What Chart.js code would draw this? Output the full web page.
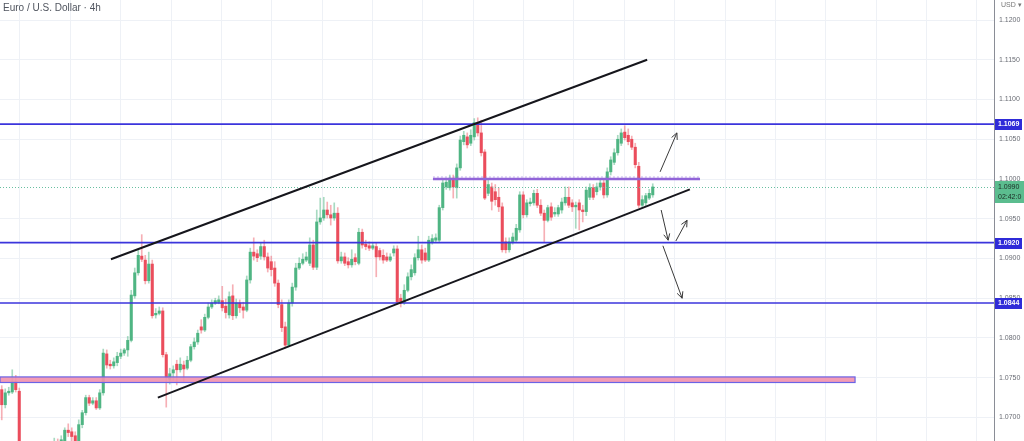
<!DOCTYPE html>
<html>
<head>
<meta charset="utf-8">
<script src="https://cdn.jsdelivr.net/npm/chart.js@4.4.0/dist/chart.umd.min.js"></script>
<style>
  html, body { margin: 0; padding: 0; background: #fff; }
  #wrap { position: relative; width: 1024px; height: 441px; }
</style>
</head>
<body>
<div id="wrap"><canvas id="priceChart"></canvas></div>
<script>
// EUR/USD 4h candles (oldest first)
const opens = [
  1.0735, 1.0716, 1.0731, 1.0732, 1.0745, 1.0733, 1.0653, 1.0644, 1.0657, 1.0634,
  1.0647, 1.0639, 1.0653, 1.0662, 1.0649, 1.0664, 1.0669, 1.0663, 1.0669, 1.0684,
  1.0682, 1.0677, 1.0668, 1.0691, 1.0706, 1.0725, 1.0718, 1.0721, 1.0712, 1.0731,
  1.0780, 1.0767, 1.0765, 1.0769, 1.0777, 1.0781, 1.0785, 1.0797, 1.0853, 1.0882,
  1.0903, 1.0898, 1.0872, 1.0893, 1.0829, 1.0831, 1.0834, 1.0779, 1.0748, 1.0756,
  1.0767, 1.0760, 1.0766, 1.0762, 1.0772, 1.0789, 1.0795, 1.0814, 1.0810, 1.0826,
  1.0839, 1.0844, 1.0845, 1.0847, 1.0840, 1.0829, 1.0853, 1.0828, 1.0844, 1.0839,
  1.0835, 1.0873, 1.0908, 1.0906, 1.0903, 1.0915, 1.0902, 1.0896, 1.0888, 1.0869,
  1.0842, 1.0814, 1.0791, 1.0844, 1.0864, 1.0888, 1.0894, 1.0898, 1.0894, 1.0917,
  1.0889, 1.0946, 1.0951, 1.0961, 1.0955, 1.0951, 1.0957, 1.0897, 1.0902, 1.0896,
  1.0892, 1.0901, 1.0894, 1.0933, 1.0918, 1.0916, 1.0913, 1.0915, 1.0910, 1.0904,
  1.0902, 1.0898, 1.0907, 1.0912, 1.0850, 1.0845, 1.0860, 1.0877, 1.0882, 1.0901,
  1.0911, 1.0907, 1.0898, 1.0921, 1.0923, 1.0923, 1.0964, 1.0990, 1.0989, 1.1001,
  1.0989, 1.1014, 1.1047, 1.1053, 1.1045, 1.1053, 1.1071, 1.1058, 1.1034, 1.0982,
  1.0990, 1.0984, 1.0977, 1.0965, 1.0921, 1.0911, 1.0921, 1.0923, 1.0936, 1.0980,
  1.0955, 1.0969, 1.0970, 1.0982, 1.0967, 1.0957, 1.0948, 1.0965, 1.0956, 1.0956,
  1.0961, 1.0970, 1.0977, 1.0970, 1.0965, 1.0970, 1.0961, 1.0959, 1.0977, 1.0989,
  1.0984, 1.0990, 1.0995, 1.0980, 1.1009, 1.1021, 1.1033, 1.1045, 1.1059, 1.1055,
  1.1050, 1.1040, 1.1016, 1.0967, 1.0970, 1.0976, 1.0980
];
const highs = [
  1.0740, 1.0736, 1.0738, 1.0760, 1.0753, 1.0737, 1.0659, 1.0662, 1.0663, 1.0653,
  1.0653, 1.0659, 1.0667, 1.0666, 1.0668, 1.0674, 1.0673, 1.0677, 1.0687, 1.0692,
  1.0687, 1.0682, 1.0697, 1.0709, 1.0728, 1.0728, 1.0725, 1.0725, 1.0735, 1.0786,
  1.0785, 1.0772, 1.0775, 1.0782, 1.0786, 1.0787, 1.0802, 1.0860, 1.0888, 1.0911,
  1.0930, 1.0904, 1.0908, 1.0898, 1.0837, 1.0839, 1.0838, 1.0782, 1.0762, 1.0765,
  1.0772, 1.0775, 1.0771, 1.0777, 1.0792, 1.0800, 1.0810, 1.0823, 1.0830, 1.0844,
  1.0848, 1.0850, 1.0853, 1.0865, 1.0849, 1.0858, 1.0867, 1.0849, 1.0848, 1.0845,
  1.0878, 1.0913, 1.0926, 1.0911, 1.0920, 1.0923, 1.0907, 1.0903, 1.0896, 1.0873,
  1.0848, 1.0820, 1.0848, 1.0869, 1.0894, 1.0901, 1.0906, 1.0908, 1.0926, 1.0923,
  1.0961, 1.0976, 1.0977, 1.0971, 1.0967, 1.0970, 1.0964, 1.0908, 1.0907, 1.0901,
  1.0911, 1.0906, 1.0938, 1.0937, 1.0923, 1.0921, 1.0920, 1.0920, 1.0913, 1.0911,
  1.0907, 1.0906, 1.0916, 1.0916, 1.0855, 1.0867, 1.0882, 1.0892, 1.0906, 1.0928,
  1.0917, 1.0913, 1.0928, 1.0930, 1.0931, 1.0967, 1.0999, 1.1001, 1.1005, 1.1005,
  1.1019, 1.1054, 1.1060, 1.1058, 1.1062, 1.1076, 1.1077, 1.1074, 1.1037, 1.0999,
  1.0995, 1.0993, 1.0989, 1.0970, 1.0926, 1.0926, 1.0932, 1.0943, 1.0984, 1.0984,
  1.0974, 1.0976, 1.0986, 1.0987, 1.0974, 1.0961, 1.0967, 1.0970, 1.0964, 1.0967,
  1.0976, 1.0990, 1.0990, 1.0974, 1.0971, 1.0974, 1.0967, 1.0990, 1.0994, 1.0993,
  1.0995, 1.1000, 1.0999, 1.1014, 1.1028, 1.1038, 1.1055, 1.1063, 1.1067, 1.1063,
  1.1054, 1.1045, 1.1021, 1.0979, 1.0982, 1.0987, 1.0994
];
const lows = [
  1.0697, 1.0712, 1.0728, 1.0730, 1.0732, 1.0644, 1.0637, 1.0639, 1.0626, 1.0629,
  1.0632, 1.0634, 1.0647, 1.0644, 1.0644, 1.0659, 1.0657, 1.0658, 1.0664, 1.0676,
  1.0670, 1.0664, 1.0664, 1.0687, 1.0703, 1.0715, 1.0716, 1.0710, 1.0710, 1.0728,
  1.0762, 1.0761, 1.0762, 1.0765, 1.0774, 1.0778, 1.0777, 1.0795, 1.0850, 1.0879,
  1.0896, 1.0868, 1.0869, 1.0825, 1.0825, 1.0829, 1.0776, 1.0713, 1.0742, 1.0747,
  1.0741, 1.0757, 1.0745, 1.0760, 1.0770, 1.0786, 1.0792, 1.0806, 1.0808, 1.0824,
  1.0837, 1.0842, 1.0843, 1.0834, 1.0825, 1.0825, 1.0823, 1.0825, 1.0832, 1.0825,
  1.0833, 1.0869, 1.0898, 1.0896, 1.0899, 1.0898, 1.0883, 1.0878, 1.0865, 1.0838,
  1.0808, 1.0787, 1.0789, 1.0840, 1.0860, 1.0886, 1.0892, 1.0896, 1.0891, 1.0886,
  1.0886, 1.0943, 1.0948, 1.0951, 1.0942, 1.0948, 1.0894, 1.0894, 1.0891, 1.0888,
  1.0889, 1.0892, 1.0892, 1.0913, 1.0911, 1.0910, 1.0911, 1.0877, 1.0898, 1.0894,
  1.0896, 1.0896, 1.0903, 1.0842, 1.0839, 1.0842, 1.0858, 1.0873, 1.0879, 1.0898,
  1.0894, 1.0896, 1.0896, 1.0918, 1.0920, 1.0921, 1.0961, 1.0987, 1.0986, 1.0976,
  1.0976, 1.1011, 1.1043, 1.1039, 1.1042, 1.1049, 1.1054, 1.1029, 1.0974, 1.0979,
  1.0961, 1.0967, 1.0959, 1.0908, 1.0907, 1.0908, 1.0918, 1.0921, 1.0933, 1.0951,
  1.0952, 1.0966, 1.0967, 1.0964, 1.0954, 1.0920, 1.0946, 1.0948, 1.0953, 1.0953,
  1.0957, 1.0967, 1.0964, 1.0959, 1.0938, 1.0936, 1.0946, 1.0954, 1.0974, 1.0974,
  1.0980, 1.0986, 1.0976, 1.0977, 1.1005, 1.1018, 1.1030, 1.1042, 1.1049, 1.1043,
  1.1037, 1.1014, 1.0964, 1.0964, 1.0966, 1.0974, 1.0977
];
const closes = [
  1.0716, 1.0731, 1.0733, 1.0745, 1.0735, 1.0653, 1.0644, 1.0657, 1.0634, 1.0647,
  1.0639, 1.0653, 1.0662, 1.0649, 1.0664, 1.0669, 1.0663, 1.0672, 1.0684, 1.0681,
  1.0676, 1.0669, 1.0691, 1.0706, 1.0725, 1.0718, 1.0721, 1.0712, 1.0731, 1.0781,
  1.0766, 1.0765, 1.0770, 1.0777, 1.0781, 1.0785, 1.0797, 1.0854, 1.0882, 1.0904,
  1.0899, 1.0872, 1.0893, 1.0828, 1.0831, 1.0834, 1.0779, 1.0750, 1.0755, 1.0760,
  1.0760, 1.0767, 1.0761, 1.0772, 1.0789, 1.0795, 1.0806, 1.0810, 1.0826, 1.0839,
  1.0844, 1.0847, 1.0848, 1.0838, 1.0832, 1.0852, 1.0828, 1.0844, 1.0838, 1.0835,
  1.0873, 1.0908, 1.0903, 1.0901, 1.0915, 1.0902, 1.0888, 1.0886, 1.0869, 1.0842,
  1.0813, 1.0791, 1.0844, 1.0864, 1.0888, 1.0894, 1.0899, 1.0902, 1.0917, 1.0889,
  1.0946, 1.0951, 1.0961, 1.0955, 1.0951, 1.0957, 1.0897, 1.0902, 1.0894, 1.0892,
  1.0899, 1.0896, 1.0933, 1.0917, 1.0915, 1.0913, 1.0916, 1.0902, 1.0902, 1.0898,
  1.0898, 1.0902, 1.0912, 1.0845, 1.0844, 1.0860, 1.0877, 1.0886, 1.0901, 1.0911,
  1.0898, 1.0898, 1.0923, 1.0925, 1.0926, 1.0964, 1.0995, 1.0996, 1.1001, 1.0990,
  1.1014, 1.1049, 1.1055, 1.1043, 1.1055, 1.1071, 1.1058, 1.1033, 1.0976, 1.0993,
  1.0972, 1.0974, 1.0965, 1.0911, 1.0911, 1.0921, 1.0927, 1.0938, 1.0980, 1.0955,
  1.0970, 1.0971, 1.0982, 1.0967, 1.0957, 1.0948, 1.0964, 1.0952, 1.0958, 1.0964,
  1.0971, 1.0977, 1.0967, 1.0965, 1.0967, 1.0961, 1.0959, 1.0986, 1.0989, 1.0977,
  1.0990, 1.0995, 1.0980, 1.1009, 1.1024, 1.1033, 1.1050, 1.1058, 1.1052, 1.1047,
  1.1040, 1.1018, 1.0967, 1.0974, 1.0979, 1.0982, 1.0990
];

// bar slots across the whole plot (candles + empty space on the right)
const slotCount = 284;
const priceTicks = [1.0700, 1.0750, 1.0800, 1.0850, 1.0900, 1.0950, 1.1000, 1.1050, 1.1100, 1.1150, 1.1200];
const priceMin = 1.06704;
const priceMax = 1.12252;

// drawn levels and tools (slot index, price)
const levelLines = [1.1069, 1.0920, 1.0844];
const lastPrice = 1.0990;
const countdown = '02:42:0';
const pivotLine = { from: 123.2, to: 199.5, price: 1.1000 };
const zoneBand = { to: 243.8, top: 1.0751, bottom: 1.0744 };
const channelUpper = [[31.2, 1.0899], [184.4, 1.1150]];
const channelLower = [[44.6, 1.0725], [196.6, 1.0987]];
const arrows = [
  [188.1, 1.1009, 192.9, 1.1058],
  [188.4, 1.0961, 190.4, 1.0923],
  [192.6, 1.0922, 195.8, 1.0948],
  [188.9, 1.0916, 194.4, 1.0850]
];

const upColor = '#4fb583';
const downColor = '#eb4d5c';

const labels = Array.from({ length: slotCount }, (_, i) => String(i));
const isUp = opens.map((o, i) => closes[i] >= o);

const drawings = {
  id: 'drawings',
  afterDatasetsDraw(chart) {
    const { ctx, chartArea: a, scales: { x, y } } = chart;
    const px = i => x.getPixelForValue(i);
    const py = p => y.getPixelForValue(p);
    ctx.save();
    ctx.beginPath();
    ctx.rect(a.left, a.top, a.width, a.height);
    ctx.clip();

    // support zone
    const zt = py(zoneBand.top), zb = py(zoneBand.bottom);
    ctx.fillStyle = 'rgba(242, 145, 172, 0.9)';
    ctx.fillRect(a.left, zt, px(zoneBand.to) - a.left, zb - zt);
    ctx.strokeStyle = '#6a63e6';
    ctx.lineWidth = 1.2;
    ctx.strokeRect(a.left, zt, px(zoneBand.to) - a.left, zb - zt);

    // current price dotted line
    ctx.setLineDash([1, 2]);
    ctx.strokeStyle = '#68bfa0';
    ctx.lineWidth = 1;
    ctx.beginPath();
    ctx.moveTo(a.left, Math.round(py(lastPrice)) + 0.5);
    ctx.lineTo(a.right, Math.round(py(lastPrice)) + 0.5);
    ctx.stroke();
    ctx.setLineDash([]);

    // horizontal levels
    ctx.strokeStyle = '#3b35dc';
    ctx.lineWidth = 1.6;
    levelLines.forEach(p => {
      ctx.beginPath();
      ctx.moveTo(a.left, py(p));
      ctx.lineTo(a.right, py(p));
      ctx.stroke();
    });

    // purple pivot
    const pp = py(pivotLine.price);
    ctx.strokeStyle = 'rgba(150, 110, 220, 0.55)';
    ctx.lineWidth = 1;
    ctx.setLineDash([2, 2]);
    ctx.beginPath();
    ctx.moveTo(px(pivotLine.from), pp - 2);
    ctx.lineTo(px(pivotLine.to), pp - 2);
    ctx.stroke();
    ctx.setLineDash([]);
    ctx.strokeStyle = '#9164d8';
    ctx.lineWidth = 2.6;
    ctx.beginPath();
    ctx.moveTo(px(pivotLine.from), pp);
    ctx.lineTo(px(pivotLine.to), pp);
    ctx.stroke();

    // channel
    ctx.strokeStyle = '#16161c';
    ctx.lineWidth = 2;
    [channelUpper, channelLower].forEach(l => {
      ctx.beginPath();
      ctx.moveTo(px(l[0][0]), py(l[0][1]));
      ctx.lineTo(px(l[1][0]), py(l[1][1]));
      ctx.stroke();
    });

    // arrows
    ctx.strokeStyle = '#3a3a3a';
    ctx.lineWidth = 1;
    arrows.forEach(([i1, p1, i2, p2]) => {
      const x1 = px(i1), y1 = py(p1), x2 = px(i2), y2 = py(p2);
      const ang = Math.atan2(y2 - y1, x2 - x1);
      ctx.beginPath();
      ctx.moveTo(x1, y1);
      ctx.lineTo(x2, y2);
      ctx.moveTo(x2 - 7 * Math.cos(ang - 0.45), y2 - 7 * Math.sin(ang - 0.45));
      ctx.lineTo(x2, y2);
      ctx.lineTo(x2 - 7 * Math.cos(ang + 0.45), y2 - 7 * Math.sin(ang + 0.45));
      ctx.stroke();
    });
    ctx.restore();
  },
  afterDraw(chart) {
    const { ctx, chartArea: a, scales: { y } } = chart;
    const py = p => y.getPixelForValue(p);
    ctx.save();
    ctx.textBaseline = 'middle';

    // title
    ctx.fillStyle = '#50555f';
    ctx.font = '10px "Liberation Sans", Arial, sans-serif';
    ctx.textAlign = 'left';
    ctx.fillText('Euro / U.S. Dollar \u00b7 4h', 3, 8);

    ctx.fillStyle = '#777';
    ctx.font = '7px "Liberation Sans", Arial, sans-serif';
    ctx.fillText('USD \u25be', a.right + 7, 5);

    // level tags
    ctx.font = 'bold 7px "Liberation Sans", Arial, sans-serif';
    levelLines.forEach(p => {
      const yy = Math.round(py(p));
      ctx.fillStyle = '#2f2bd8';
      ctx.fillRect(a.right + 1, yy - 5, 27, 11);
      ctx.fillStyle = '#fff';
      ctx.fillText(p.toFixed(4), a.right + 4, yy + 0.5);
    });

    // last price tag
    const ly = Math.round(py(lastPrice));
    ctx.fillStyle = '#5bbd8f';
    ctx.fillRect(a.right + 1, ly - 6, 30, 22);
    ctx.fillStyle = '#1d2b24';
    ctx.font = '7px "Liberation Sans", Arial, sans-serif';
    ctx.fillText(lastPrice.toFixed(4), a.right + 4, ly);
    ctx.fillText(countdown, a.right + 4, ly + 10);
    ctx.restore();
  }
};

new Chart(document.getElementById('priceChart'), {
  type: 'bar',
  data: {
    labels: labels,
    datasets: [
      {
        label: 'Body',
        data: opens.map((o, i) => [o, closes[i]]),
        backgroundColor: isUp.map(u => u ? upColor : downColor),
        barThickness: 2.4,
        minBarLength: 1,
        grouped: false,
        order: 0
      },
      {
        label: 'Wick',
        data: lows.map((l, i) => [l, highs[i]]),
        backgroundColor: isUp.map(u => u ? 'rgba(79, 181, 131, 0.5)' : 'rgba(235, 77, 92, 0.45)'),
        barThickness: 1,
        grouped: false,
        order: 1
      }
    ]
  },
  options: {
    responsive: true,
    maintainAspectRatio: false,
    animation: false,
    layout: { padding: 0 },
    plugins: {
      legend: { display: false },
      tooltip: { enabled: false }
    },
    scales: {
      x: { display: false, offset: true },
      xg: {
        type: 'linear',
        position: 'bottom',
        min: -0.376,
        max: 18.32,
        afterFit: s => { s.height = 0; s.paddingLeft = 0; s.paddingRight = 0; },
        ticks: { display: false, stepSize: 1, includeBounds: false },
        grid: { color: '#eef1f6', drawTicks: false },
        border: { display: false }
      },
      y: {
        position: 'right',
        min: priceMin,
        max: priceMax,
        afterBuildTicks: s => { s.ticks = priceTicks.map(v => ({ value: v })); },
        afterFit: s => { s.width = 30; s.paddingTop = 0; s.paddingBottom = 0; },
        grid: { color: '#eef1f6', drawTicks: false },
        border: { color: '#8a8d96' },
        ticks: {
          padding: 5,
          color: '#6a6d75',
          font: { family: 'Liberation Sans', size: 7 },
          callback: v => v.toFixed(4)
        }
      }
    }
  },
  plugins: [drawings]
});
</script>
</body>
</html>
